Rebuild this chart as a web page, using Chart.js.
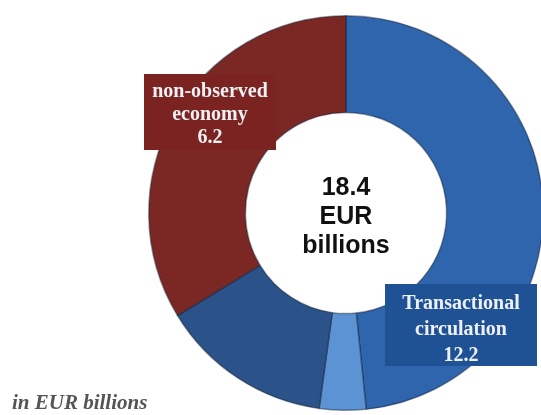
<!DOCTYPE html>
<html>
<head>
<meta charset="utf-8">
<script src="https://cdn.jsdelivr.net/npm/chart.js@4.4.1/dist/chart.umd.min.js"></script>
<style>
  html, body { margin: 0; padding: 0; background: #fff; overflow: hidden; }
  #wrap { position: relative; width: 550px; height: 415px; }
</style>
</head>
<body>
<div id="wrap"><canvas id="chart"></canvas></div>
<script>
// segments clockwise from 12 o'clock
const segments = ['Transactional circulation', 'Transactional circulation (part 2)', 'Transactional circulation (part 3)', 'non-observed economy'];
const values = [8.9, 0.7, 2.6, 6.2];
const colors = ['#2f65ad', '#5b93d4', '#2b5389', '#7b2825'];

const totalLabel = ['18.4', 'EUR', 'billions'];
const redBox = ['non-observed', 'economy', '6.2'];
const blueBox = ['Transactional', 'circulation', '12.2'];

// labels, boxes and centre total
const overlay = {
  id: 'overlay',
  afterDraw(chart) {
    const ctx = chart.ctx;
    ctx.save();

    function box(x, y, w, h, fill, lines, firstY, lh) {
      ctx.fillStyle = fill;
      ctx.fillRect(x, y, w, h);
      ctx.fillStyle = '#eef0f4';
      ctx.font = 'bold 20px "Liberation Serif", "DejaVu Serif", serif';
      ctx.textAlign = 'center';
      ctx.textBaseline = 'middle';
      const cx = x + w / 2;
      lines.forEach((t, i) => ctx.fillText(t, cx, firstY + i * lh));
    }

    box(144, 74, 132, 76, '#7a2321', redBox, 92, 23);
    box(385, 284, 152, 82, '#1f5295', blueBox, 304, 26);

    // centre total
    const arc = chart.getDatasetMeta(0).data[0];
    ctx.fillStyle = '#111';
    ctx.font = 'bold 25px "Liberation Sans", Arial, sans-serif';
    ctx.textAlign = 'center';
    ctx.textBaseline = 'middle';
    totalLabel.forEach((t, i) => ctx.fillText(t, arc.x, 188 + i * 29));

    // unit note
    ctx.fillStyle = '#555';
    ctx.font = 'italic bold 21px "Liberation Serif", "DejaVu Serif", serif';
    ctx.textAlign = 'left';
    ctx.fillText('in EUR billions', 12, 404);
    ctx.restore();
  }
};

new Chart(document.getElementById('chart'), {
  type: 'doughnut',
  data: {
    labels: segments,
    datasets: [{
      data: values,
      backgroundColor: colors,
      borderColor: 'rgba(20, 30, 50, 0.45)',
      borderWidth: 1.5
    }]
  },
  options: {
    responsive: true,
    maintainAspectRatio: false,
    animation: false,
    cutout: '51%',
    layout: { padding: { left: 148, right: 6, top: 15, bottom: 4 } },
    plugins: {
      legend: { display: false },
      tooltip: { enabled: false }
    }
  },
  plugins: [overlay]
});
</script>
</body>
</html>
